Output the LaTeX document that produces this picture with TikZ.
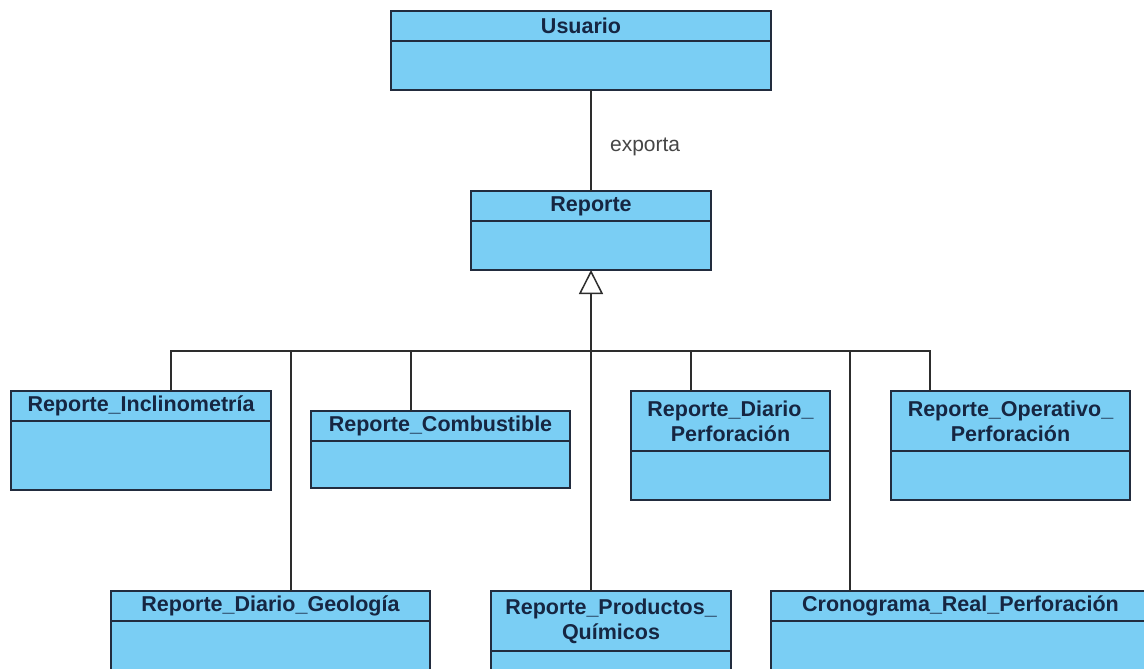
\documentclass[tikz,border=0pt]{standalone}
\usepackage{fontspec}
\setmainfont{Liberation Sans}
\usetikzlibrary{arrows.meta}
\definecolor{celeste}{RGB}{122,206,244}
\definecolor{borde}{RGB}{34,44,62}
\definecolor{tinta}{RGB}{22,38,66}
\definecolor{linea}{RGB}{45,45,45}
\definecolor{gris}{RGB}{70,70,70}

\begin{document}
\begin{tikzpicture}[x=1pt,y=-1pt,
    clase/.style={draw=borde, fill=celeste, line width=1.5pt, inner sep=0pt, outer sep=0pt},
    cabecera/.style={clase, anchor=north, align=center, text=tinta, font=\fontsize{21.5}{25}\selectfont\bfseries},
    enlace/.style={draw=linea, line width=1.5pt}]
    \clip (0,0) rectangle (1144,669);
    \fill[white] (0,0) rectangle (1144,669);

    % Clases de arriba
    \node[clase, minimum width=380pt, minimum height=79pt] (usuario) at (581,50.5) {};
    \node[cabecera, minimum width=380pt, minimum height=30pt] (usuarioT) at (usuario.north) {Usuario};
    \node[clase, minimum width=240pt, minimum height=79pt] (reporte) at (591,230.5) {};
    \node[cabecera, minimum width=240pt, minimum height=30pt] (reporteT) at (reporte.north) {Reporte};

    % Primera fila de reportes
    \node[clase, minimum width=260pt, minimum height=99pt] (inclinometria) at (141,440.5) {};
    \node[cabecera, minimum width=260pt, minimum height=30pt] (inclinometriaT) at (inclinometria.north) {Reporte\_Inclinometría};
    \node[clase, minimum width=259pt, minimum height=77pt] (combustible) at (440.5,449.5) {};
    \node[cabecera, minimum width=259pt, minimum height=30pt] (combustibleT) at (combustible.north) {Reporte\_Combustible};
    \node[clase, minimum width=199pt, minimum height=109pt] (diarioperf) at (730.5,445.5) {};
    \node[cabecera, minimum width=199pt, minimum height=60pt] (diarioperfT) at (diarioperf.north) {Reporte\_Diario\_\\Perforación};
    \node[clase, minimum width=239pt, minimum height=109pt] (operativo) at (1010.5,445.5) {};
    \node[cabecera, minimum width=239pt, minimum height=60pt] (operativoT) at (operativo.north) {Reporte\_Operativo\_\\Perforación};

    % Segunda fila
    \node[clase, minimum width=319pt, minimum height=110pt] (geologia) at (270.5,646) {};
    \node[cabecera, minimum width=319pt, minimum height=30pt] (geologiaT) at (geologia.north) {Reporte\_Diario\_Geología};
    \node[clase, minimum width=240pt, minimum height=110pt] (quimicos) at (611,646) {};
    \node[cabecera, minimum width=240pt, minimum height=60pt] (quimicosT) at (quimicos.north) {Reporte\_Productos\_\\Químicos};
    \node[clase, minimum width=379pt, minimum height=110pt] (cronograma) at (960.5,646) {};
    \node[cabecera, minimum width=379pt, minimum height=30pt] (cronogramaT) at (cronograma.north) {Cronograma\_Real\_Perforación};

    % Asociacion
    \draw[enlace] ([xshift=10pt]usuario.south) -- node[pos=0.56, right=15pt, text=gris, font=\fontsize{21}{24}\selectfont] (exporta) {exporta} (reporte.north);

    % Herencia
    \coordinate (bus) at (591,351);
    \draw[enlace, -{Triangle[open, length=24pt, width=24pt]}] ([xshift=-20pt]quimicosT.north) -- (reporte.south);
    \draw[enlace] ([xshift=30pt]inclinometriaT.north) -- ([xshift=30pt]inclinometriaT.north |- bus) -| ([xshift=-80.5pt]operativoT.north);
    \draw[enlace] ([xshift=-29.5pt]combustibleT.north) -- ([xshift=-29.5pt]combustibleT.north |- bus);
    \draw[enlace] ([xshift=-39.5pt]diarioperfT.north) -- ([xshift=-39.5pt]diarioperfT.north |- bus);
    \draw[enlace] ([xshift=20.5pt]geologiaT.north) -- ([xshift=20.5pt]geologiaT.north |- bus);
    \draw[enlace] ([xshift=-110.5pt]cronogramaT.north) -- ([xshift=-110.5pt]cronogramaT.north |- bus);
\end{tikzpicture}
\end{document}
